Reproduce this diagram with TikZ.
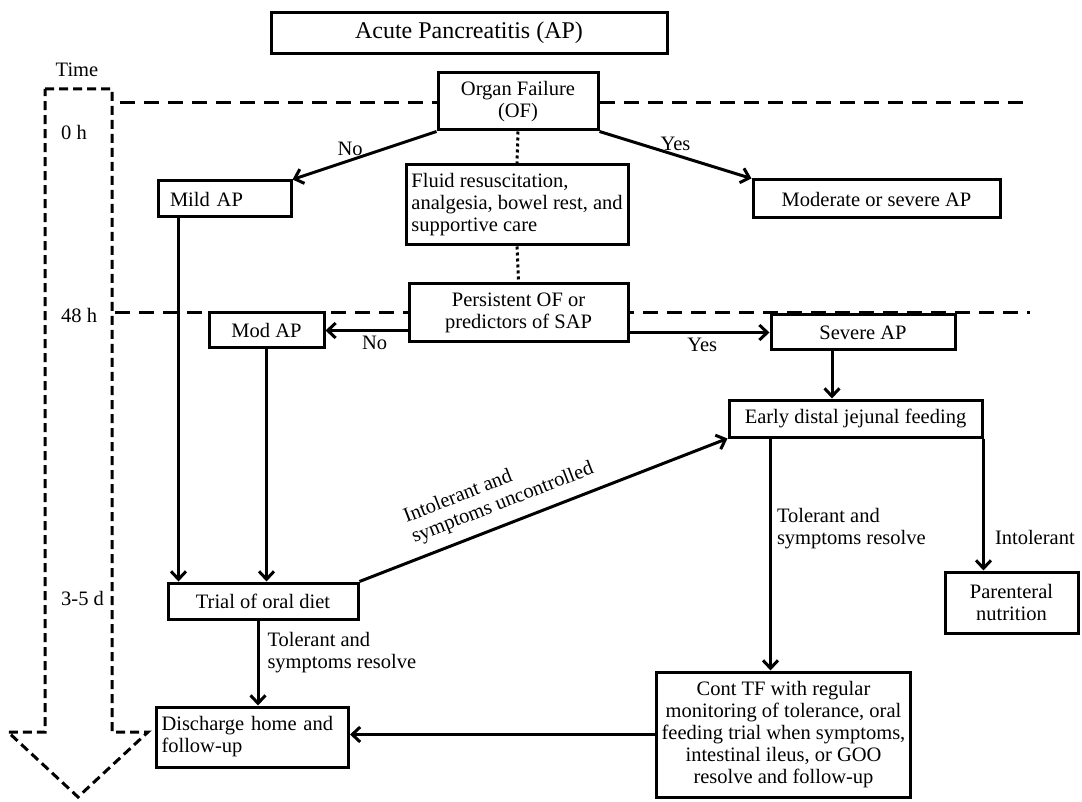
\documentclass[tikz,border=0pt]{standalone}
\usepackage{fontspec}
\setmainfont{Liberation Serif}
\usetikzlibrary{arrows.meta}

\begin{document}
\begin{tikzpicture}[x=1pt, y=-1pt, >={Straight Barb[length=8pt,width=15pt]},
    box/.style={draw, line width=3pt, fill=white, align=center, inner xsep=5pt,
      font=\fontsize{20.5}{22}\selectfont},
    lbl/.style={font=\fontsize{20.5}{22}\selectfont, inner sep=2pt},
    flow/.style={->, line width=3pt},
    dotline/.style={line width=3pt, dash pattern=on 3pt off 3pt},
    timeline/.style={line width=3pt, dash pattern=on 15pt off 9pt},
    timearrow/.style={line width=3pt, dash pattern=on 9pt off 5pt}]
  \useasboundingbox (0,0) rectangle (1082,802);

  % time axis
  \node[lbl] (time) at (77,70) {Time};
  \draw[timearrow] (45,89) -- (112,89) -- (112,732) -- (148,732) -- (78,797)
    -- (8,732) -- (45,732) -- cycle;
  \node[lbl, anchor=west] (t0) at (59,132) {0 h};
  \node[lbl, anchor=west] (t48) at (59,315) {48 h};
  \node[lbl, anchor=west] (t35) at (59,598) {3-5 d};
  \coordinate (h0a) at (120,103);
  \coordinate (h0b) at (1030,103);
  \coordinate (h48a) at (115,313);
  \coordinate (h48b) at (1030,313);
  \draw[timeline] (h0a) -- (h0b);
  \draw[timeline] (h48a) -- (h48b);

  % boxes
  \node[box, minimum width=396pt, minimum height=41pt,
    font=\fontsize{24}{29}\selectfont] (title) at (469,33) {Acute Pancreatitis (AP)};
  \node[box, minimum width=160pt, minimum height=57pt] (of) at (518,101.5)
    {Organ Failure\\(OF)};
  \node[box, align=left, minimum width=222pt, minimum height=80pt] (fluid) at (517,205)
    {Fluid resuscitation,\\analgesia, bowel rest, and\\supportive care};
  \node[box, minimum width=219pt, minimum height=58pt] (pers) at (518.5,313)
    {Persistent OF or\\predictors of SAP};
  \node[box, align=left, text width=109pt, inner xsep=12pt, minimum height=36pt]
    (mild) at (224.5,199) {Mild AP};
  \node[box, minimum width=247pt, minimum height=38pt] (modsev) at (876.5,199)
    {Moderate or severe AP};
  \node[box, minimum width=115pt, minimum height=35pt] (mod) at (266.5,330.5) {Mod AP};
  \node[box, minimum width=184pt, minimum height=35pt] (sev) at (863,332.5) {Severe AP};
  \node[box, minimum width=253pt, minimum height=37pt] (early) at (855.5,418.5)
    {Early distal jejunal feeding};
  \node[box, minimum width=190pt, minimum height=36pt] (trial) at (263,601)
    {Trial of oral diet};
  \node[box, minimum width=133pt, minimum height=61pt] (parent) at (1011.5,602.5)
    {Parenteral\\nutrition};
  \node[box, align=left, text width=182pt, inner xsep=5pt, minimum height=60pt]
    (disch) at (252.5,737) {Discharge home and\\follow-up};
  \node[box, minimum width=245pt, minimum height=125pt] (cont) at (783.5,734.5)
    {Cont TF with regular\\monitoring of tolerance, oral\\feeding trial when symptoms,\\
     intestinal ileus, or GOO\\resolve and follow-up};

  % connectors
  \draw[flow] (of.south west) -- node[lbl, pos=0.6, above=1pt] {No} (mild.north east);
  \draw[flow] (of.south east) -- node[lbl, pos=0.5, above=1pt] {Yes} (modsev.north west);
  \draw[dotline] (of.south) -- (fluid.north);
  \draw[dotline] (fluid.south) -- (pers.north);
  \draw[flow] ([xshift=22pt]mild.south west) -- ([xshift=22pt]mild.south west |- trial.north);
  \draw[flow] (mod.south) -- (mod.south |- trial.north);
  \draw[flow] (pers.west |- mod.east) -- node[lbl, pos=0.4, below=2pt] {No} (mod.east);
  \draw[flow] (pers.east |- sev.west) -- node[lbl, pos=0.52, below=2pt] {Yes} (sev.west);
  \draw[flow] ([xshift=-31pt]sev.south) -- ([xshift=-31pt]sev.south |- early.north);
  \draw[flow] (trial.north east) -- node[lbl, pos=0.41, sloped, above=8pt, align=left]
    {Intolerant and\\symptoms uncontrolled} (early.south west);
  \draw[flow] ([xshift=-85pt]early.south) -- node[lbl, pos=0.39, right=3pt, align=left]
    {Tolerant and\\symptoms resolve} ([xshift=-85pt]early.south |- cont.north);
  \draw[flow] (early.south east) -- node[lbl, pos=0.75, right=8pt] {Intolerant}
    (early.south east |- parent.north);
  \draw[flow] ([xshift=-5pt]trial.south) -- node[lbl, pos=0.38, right=6pt, align=left]
    {Tolerant and\\symptoms resolve} ([xshift=-5pt]trial.south |- disch.north);
  \draw[flow] (cont.west) -- (cont.west -| disch.east);
\end{tikzpicture}
\end{document}
